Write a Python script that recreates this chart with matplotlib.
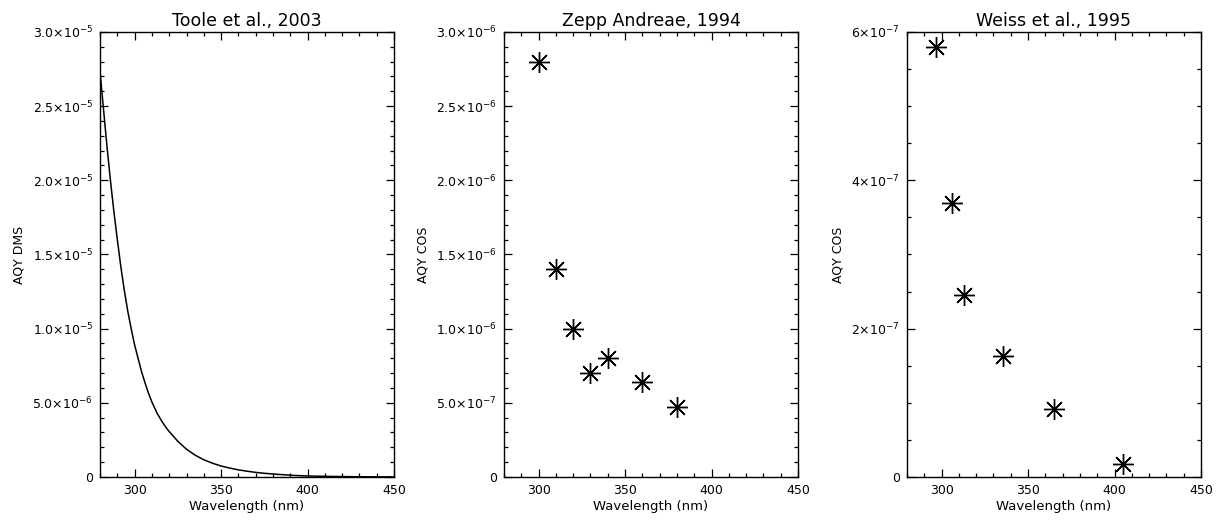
import matplotlib
matplotlib.use('Agg')
import matplotlib.pyplot as plt
from matplotlib.ticker import MultipleLocator, FuncFormatter

# Toole et al., 2003 - AQY DMS curve
toole_wl = [280, 282, 284, 286, 288, 290, 292, 294, 296, 298, 300, 302,
            304, 306, 308, 310, 313, 316, 319, 322, 325, 330, 335,
            340, 345, 350, 355, 360, 365, 370, 375, 380, 385, 390, 395,
            400, 405, 410, 415, 420, 425, 430, 435, 440, 445, 450]
toole_aqy = [27.3e-6, 24.8e-6, 22.3e-6, 20.0e-6, 17.9e-6, 16.0e-6,
             14.2e-6, 12.6e-6, 11.2e-6, 10.0e-6, 8.9e-6, 8.0e-6, 7.1e-6,
             6.35e-6, 5.65e-6, 5.05e-6, 4.3e-6, 3.7e-6, 3.2e-6, 2.8e-6,
             2.4e-6, 1.87e-6, 1.47e-6, 1.16e-6, 0.93e-6,
             0.74e-6, 0.60e-6, 0.48e-6, 0.39e-6, 0.31e-6, 0.25e-6, 0.20e-6,
             0.16e-6, 0.12e-6, 0.09e-6, 0.07e-6, 0.055e-6, 0.045e-6,
             0.035e-6, 0.028e-6, 0.022e-6, 0.017e-6, 0.013e-6, 0.010e-6,
             0.008e-6, 0.006e-6]

# Zepp Andreae, 1994 - AQY COS
zepp_wl = [300, 310, 320, 330, 340, 360, 380]
zepp_aqy = [2.8e-6, 1.4e-6, 1.0e-6, 0.7e-6, 0.8e-6, 0.64e-6, 0.47e-6]

# Weiss et al., 1995 - AQY COS
weiss_wl = [296.5, 306, 313, 335.5, 365, 405]
weiss_aqy = [5.8e-7, 3.7e-7, 2.45e-7, 1.63e-7, 0.92e-7, 0.18e-7]

plt.rcParams['font.family'] = 'DejaVu Sans'
plt.rcParams['mathtext.fontset'] = 'dejavusans'


def sci_fmt(decimals):
    def fmt(v, pos):
        if abs(v) < 1e-20:
            return '0'
        exp = 0
        m = v
        while abs(m) < 1:
            m *= 10
            exp -= 1
        mant = f'{m:.{decimals}f}'
        return r'$%s{\times}10^{%d}$' % (mant, exp)
    return fmt


def style_axis(ax, ymax, ymajor, yminor, decimals, title, ylabel):
    ax.set_xlim(280, 450)
    ax.set_ylim(0, ymax)
    ax.xaxis.set_major_locator(MultipleLocator(50))
    ax.xaxis.set_minor_locator(MultipleLocator(10))
    ax.yaxis.set_major_locator(MultipleLocator(ymajor))
    ax.yaxis.set_minor_locator(MultipleLocator(yminor))
    ax.yaxis.set_major_formatter(FuncFormatter(sci_fmt(decimals)))
    ax.tick_params(which='both', direction='in', top=True, right=True,
                   labelsize=9, width=0.9, pad=5)
    ax.tick_params(which='major', length=5.5)
    ax.tick_params(which='minor', length=3)
    for s in ax.spines.values():
        s.set_linewidth(1.0)
    ax.set_title(title, fontsize=12.5, pad=4)
    ax.set_xlabel('Wavelength (nm)', fontsize=9.5, labelpad=2)
    ax.set_ylabel(ylabel, fontsize=9, labelpad=5)


fig = plt.figure(figsize=(12.26, 5.27), dpi=100)
w, h, b = 0.2398, 0.8444, 0.0949

ax1 = fig.add_axes([0.0816, b, w, h])
ax1.plot(toole_wl, toole_aqy, color='black', lw=1.1)
style_axis(ax1, 3e-5, 5e-6, 1e-6, 1, 'Toole et al., 2003', 'AQY DMS')

star = (8, 2, 0)

ax2 = fig.add_axes([0.4111, b, w, h])
ax2.plot(zepp_wl, zepp_aqy, linestyle='none', marker=star, markersize=15,
         color='black', markeredgewidth=1.0)
style_axis(ax2, 3e-6, 5e-7, 1e-7, 1, 'Zepp Andreae, 1994', 'AQY COS')

ax3 = fig.add_axes([0.7398, b, w, h])
ax3.plot(weiss_wl, weiss_aqy, linestyle='none', marker=star, markersize=15,
         color='black', markeredgewidth=1.0)
style_axis(ax3, 6e-7, 2e-7, 5e-8, 0, 'Weiss et al., 1995', 'AQY COS')

fig.savefig('out.png', dpi=100)
